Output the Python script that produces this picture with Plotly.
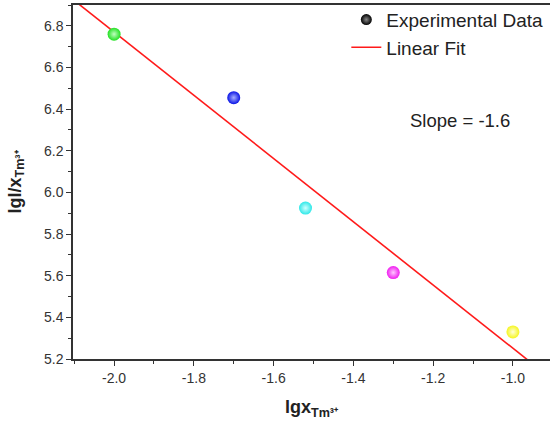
import numpy as np
import plotly.graph_objects as go

# Data
lgx = [-2.0, -1.7, -1.52, -1.3, -1.0]
lgI_x = [6.76, 6.455, 5.925, 5.615, 5.33]
point_colors = ["#22e022", "#0a14e6", "#2ee8e8", "#f01ef0", "#f5f51e"]
point_highlights = ["#c0ffc0", "#a8b0ff", "#d0ffff", "#ffc8ff", "#ffffd8"]
x_ticks = [-2.0, -1.8, -1.6, -1.4, -1.2, -1.0]
y_ticks = [5.2, 5.4, 5.6, 5.8, 6.0, 6.2, 6.4, 6.6, 6.8]

# Linear fit computed from the data
slope, intercept = np.polyfit(lgx, lgI_x, 1)
fit_x = np.array([-2.2, -0.8])
fit_y = slope * fit_x + intercept

fig = go.Figure()
fig.add_trace(go.Scatter(
    x=fit_x, y=fit_y, mode="lines", name="Linear Fit",
    line=dict(color="#ff1a1a", width=1.6), showlegend=False, cliponaxis=True))
fig.add_trace(go.Scatter(
    x=lgx, y=lgI_x, mode="markers", showlegend=False,
    marker=dict(size=13, color=point_colors,
                gradient=dict(type="radial", color=point_highlights),
                line=dict(width=0))))
# legend entries
fig.add_trace(go.Scatter(
    x=[None], y=[None], mode="markers", name="Experimental Data",
    marker=dict(size=11, color="#000000",
                gradient=dict(type="radial", color="#888888"), line=dict(width=0))))
fig.add_trace(go.Scatter(
    x=[None], y=[None], mode="lines", name="Linear Fit",
    line=dict(color="#ff1a1a", width=1.6)))

axis_font = dict(family="Liberation Sans, Arial, sans-serif", size=14, color="#333333")
fig.update_layout(
    width=550, height=423,
    margin=dict(l=73, r=0, t=5, b=64),
    paper_bgcolor="white", plot_bgcolor="white",
    font=dict(family="Liberation Sans, Arial, sans-serif", color="#222222"),
    showlegend=True,
    legend=dict(x=0.573, y=1.012, xanchor="left", yanchor="top",
                font=dict(size=19, color="#222222"), bgcolor="rgba(0,0,0,0)",
                tracegroupgap=0, itemwidth=30),
    xaxis=dict(range=[-2.103, -0.907], tickvals=x_ticks, ticktext=[f"{v:.1f}" for v in x_ticks],
               ticks="outside", ticklen=5, tickwidth=1.2, tickcolor="#333333",
               showline=True, linecolor="#333333", linewidth=1.5, mirror=True,
               showgrid=False, zeroline=False, tickfont=axis_font, automargin=False,
               minor=dict(dtick=0.1, ticks="outside", ticklen=3, tickcolor="#333333", showgrid=False),
               title=dict(text="<b>lgx<sub>Tm³⁺</sub></b>", font=dict(size=18, color="#222222"), standoff=16)),
    yaxis=dict(range=[5.2, 6.9], tickvals=y_ticks, ticktext=[f"{v:.1f}" for v in y_ticks],
               ticks="outside", ticklen=5, tickwidth=1.2, tickcolor="#333333",
               showline=True, linecolor="#333333", linewidth=1.5, mirror=False,
               showgrid=False, zeroline=False, tickfont=axis_font, automargin=False,
               minor=dict(dtick=0.1, ticks="outside", ticklen=3, tickcolor="#333333", showgrid=False),
               title=dict(text="<b>lgI/x<sub>Tm³⁺</sub></b>", font=dict(size=18, color="#222222"), standoff=18)),
    annotations=[dict(x=-1.133, y=6.345, xref="x", yref="y", text="Slope = -1.6",
                      showarrow=False, font=dict(size=18.5, color="#222222"))],
)
fig.write_html("out.html", config={"displayModeBar": False},
               post_script="document.body.style.margin='0';")
